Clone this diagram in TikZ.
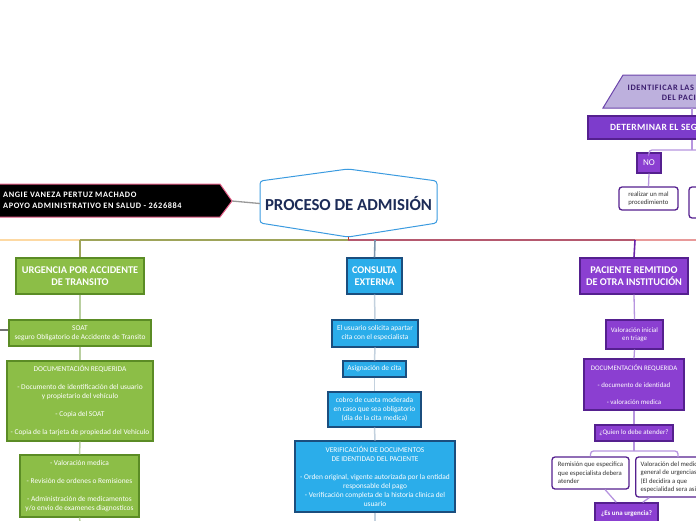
\documentclass[tikz,border=0pt]{standalone}
\usepackage{fontspec}
\setmainfont{Carlito}
\definecolor{grnF}{HTML}{8CBE47}
\definecolor{grnD}{HTML}{5B8C25}
\definecolor{grnL}{HTML}{B9CFA0}
\definecolor{bluF}{HTML}{2BADEA}
\definecolor{bluD}{HTML}{1B4E7E}
\definecolor{bluL}{HTML}{C3D1DE}
\definecolor{bluM}{HTML}{7C95AD}
\definecolor{purF}{HTML}{8B3FD1}
\definecolor{purD}{HTML}{55208F}
\definecolor{purL}{HTML}{B795DF}
\definecolor{purM}{HTML}{6A22A8}
\definecolor{detF}{HTML}{7D3CCC}
\definecolor{trapF}{HTML}{BDB0DD}
\definecolor{trapD}{HTML}{6C45AB}
\definecolor{trapT}{HTML}{3B1D6E}
\definecolor{titT}{HTML}{1C2B57}
\definecolor{titD}{HTML}{3B9BE0}
\definecolor{pinkD}{HTML}{E8608A}
\definecolor{busO}{HTML}{FDD9A3}
\definecolor{busG}{HTML}{9EA45A}
\definecolor{busR}{HTML}{B5596F}
\definecolor{busS}{HTML}{E89A9A}
\definecolor{tickR}{HTML}{C0392B}
\definecolor{txtD}{HTML}{333333}
\tikzset{
 sz/.style 2 args={minimum width=#1pt, minimum height=#2pt},
 box/.style={draw, line width=1.3pt, inner sep=0pt, align=center, text=white},
 hdr/.style={box, font=\bfseries\fontsize{10.3}{12}\selectfont},
 sml/.style={box, font=\fontsize{7.4}{9}\selectfont},
 grnhdr/.style={hdr, fill=grnF, draw=grnD},
 grnbox/.style={sml, fill=grnF, draw=grnD},
 bluhdr/.style={hdr, fill=bluF, draw=bluD},
 blubox/.style={sml, fill=bluF, draw=bluD},
 purhdr/.style={hdr, fill=purF, draw=purD},
 purbox/.style={sml, fill=purF, draw=purD, font=\fontsize{6.9}{8.5}\selectfont},
 wbox/.style={draw=purD, line width=1.3pt, fill=white, rounded corners=3pt, text=txtD, align=flush left, inner xsep=5pt, inner ysep=0pt, font=\fontsize{6.7}{8.5}\selectfont},
 gline/.style={draw=grnL, line width=1.5pt},
 bline/.style={draw=bluL, line width=1.5pt},
 pline/.style={draw=purL, line width=1.3pt},
 busline/.style={line width=1.6pt},
}
\begin{document}
\begin{tikzpicture}[x=1pt,y=-1pt]
\useasboundingbox (0,0) rectangle (696,520);

% ---- author ----
\draw[draw=pinkD, fill=black, line width=1pt] (-2,184) -- (220,184) -- (232,201) -- (220,217) -- (-2,217) -- cycle;
\coordinate (authtip) at (232,201);
\node[anchor=west, text=white, font=\bfseries\fontsize{8.3}{11}\selectfont\addfontfeatures{LetterSpace=7}, align=flush left, inner sep=0pt] (author) at (3,200.5) {ANGIE VANEZA PERTUZ MACHADO\\APOYO ADMINISTRATIVO EN SALUD - 2626884};

% ---- title ----
\draw[draw=titD, fill=white, line width=1pt, rounded corners=3pt] (260,181) -- (348,169) -- (437,181) -- (437,223) -- (348,237) -- (260,223) -- cycle;
\coordinate (titbot) at (348,237);
\node[font=\bfseries\fontsize{16.8}{18}\selectfont, text=titT, inner sep=0pt, sz={177}{42}] (title) at (348.5,203.5) {PROCESO DE ADMISIÓN};
\draw[draw=gray!80, line width=1.3pt] (authtip) -- (title.west);

% ---- bus ----
\coordinate (j0) at (-2,240);
\coordinate (j1) at (80,240);
\coordinate (jc) at (348,240);
\coordinate (j2) at (375,240);
\coordinate (j3) at (635,240);
\coordinate (j4) at (698,240);
\draw[busline, busO] (j0) -- (j1);
\draw[busline, busG] (j1) -- (jc);
\draw[busline, busR] (jc) -- (j3);
\draw[busline, busS] (j3) -- (j4);
\draw[tickR, line width=1pt] (titbot) -- (jc);

% ---- green column ----
\node[grnhdr, sz={128}{36}] (urg) at (80,276) {URGENCIA POR ACCIDENTE\\DE TRANSITO};
\node[grnbox, sz={142}{26}] (soat) at (80,333) {SOAT\\seguro Obligatorio de Accidente de Transito};
\node[grnbox, sz={146}{80}] (doc1) at (80,401) {DOCUMENTACIÓN REQUERIDA\\[9pt]- Documento de identificación del usuario\\y propietario del vehículo\\[9pt]- Copia del SOAT\\[9pt]- Copia de la tarjeta de propiedad del Vehiculo};
\node[grnbox, sz={119}{62}] (val1) at (79.5,486) {- Valoración medica\\[9pt]- Revisión de ordenes o Remisiones\\[9pt]- Administración de medicamentos\\y/o envio de examenes diagnosticos};
\coordinate (gend) at (80,522);
\coordinate (sleft) at (-2,330);
\draw[busline, busG] (j1) -- (urg.north);
\draw[gline] (urg.south) -- (soat.north);
\draw[gline] (soat.south) -- (doc1.north);
\draw[gline] (doc1.south) -- (val1.north);
\draw[gline] (val1.south) -- (gend);
\draw[draw=gray!90!black, line width=1.3pt] (sleft) -- (sleft -| soat.west);

% ---- blue column ----
\node[bluhdr, sz={55}{36}] (cons) at (374.5,276) {CONSULTA\\EXTERNA};
\node[blubox, sz={86}{27}] (c2) at (375,333.5) {El usuario solicita apartar\\cita con el especialista};
\node[blubox, sz={63}{16}] (c3) at (374.5,369) {Asignación de cita};
\node[blubox, sz={93}{35}] (c4) at (374.5,409.5) {cobro de cuota moderada\\en caso que sea obligatorio\\(dia de la cita medica)};
\node[blubox, sz={160}{71}] (c5) at (375,476.5) {VERIFICACIÓN DE DOCUMENTOS\\DE IDENTIDAD DEL PACIENTE\\[9pt]- Orden original, vigente autorizada por la entidad\\responsable del pago\\- Verificación completa de la historia clinica del\\usuario};
\coordinate (bend) at (375,522);
\draw[busline, bluM] (j2) -- (cons.north);
\draw[bline] (cons.south) -- (c2.north);
\draw[bline] (c2.south) -- (c3.north);
\draw[bline] (c3.south) -- (c4.north);
\draw[bline] (c4.south) -- (c5.north);
\draw[bline] (c5.south) -- (bend);

% ---- purple column ----
\node[purhdr, sz={108}{36}] (pac) at (634,276) {PACIENTE REMITIDO\\DE OTRA INSTITUCIÓN};
\node[purbox, sz={57}{29}] (p2) at (634.5,334.5) {Valoración inicial\\en triage};
\node[purbox, sz={100}{51}] (p3) at (634,384.5) {DOCUMENTACIÓN REQUERIDA\\[8.5pt]- documento de identidad\\[8.5pt]- valoración medica};
\node[purbox, sz={78}{16}] (p4) at (634,433) {¿Quien lo debe atender?};
\node[wbox, sz={77}{32}] (p5) at (590.5,473) {Remisión que especifica\\que especialista debera\\atender};
\node[wbox, minimum height=40pt, anchor=west] (p6) at (635,477) {Valoración del medico\\general de urgencias\\(El decidira a que\\especialidad sera asignado)};
\node[purbox, sz={63}{22}, font=\bfseries\fontsize{6.9}{8.5}\selectfont] (p7) at (626.5,514) {¿Es una urgencia?};
\coordinate (brk) at (634,451);
\coordinate (p6top) at (678,457);
\draw[busline, purM] (j3) -- (pac.north);
\draw[pline] (pac.south) -- (p2.north);
\draw[pline] (p2.south) -- (p3.north);
\draw[pline] (p3.south) -- (p4.north);
\draw[pline] (p4.south) -- (brk);
\draw[pline, rounded corners=3pt] (p5.north) |- (brk);
\draw[pline, rounded corners=3pt] (brk) -| (p6top);
\draw[pline] (p5) -- (p7);
\draw[pline] (p6) -- (p7);

% ---- top right ----
\draw[draw=trapD, fill=trapF, line width=1pt] (623,75) -- (761,75) -- (781,108) -- (603,108) -- cycle;
\coordinate (idbot) at (692,108);
\node[font=\bfseries\fontsize{8.3}{10}\selectfont\addfontfeatures{LetterSpace=8}, text=trapT, align=center, inner sep=0pt] (ident) at (689,93) {IDENTIFICAR LAS NECESIDADES\\DEL PACIENTE};
\node[draw=purD, fill=detF, line width=1.2pt, text=white, font=\bfseries\fontsize{9.5}{11}\selectfont\addfontfeatures{LetterSpace=4}, align=flush left, inner xsep=22pt, inner ysep=0pt, text width=164pt, minimum height=23pt] (det) at (692,127.5) {DETERMINAR EL SEGURO};
\node[draw=purD, fill=purF, line width=1.2pt, text=white, font=\fontsize{9}{10}\selectfont, inner sep=0pt, sz={24}{20}] (no) at (649,163) {NO};
\node[wbox, sz={59}{23}] (real) at (648.5,198.5) {realizar un mal\\procedimiento};
\node[wbox, sz={59}{31}] (r2) at (718.5,202.5) {};
\coordinate (b1) at (692,150);
\coordinate (b2) at (700,150);
\draw[pline] (idbot) -- (det.north);
\draw[pline] (det.south) -- (b1);
\draw[pline, rounded corners=3pt] (no.north) |- (b1) -- (b2);
\draw[pline] (no.south) -- (real.north);

\end{tikzpicture}
\end{document}
